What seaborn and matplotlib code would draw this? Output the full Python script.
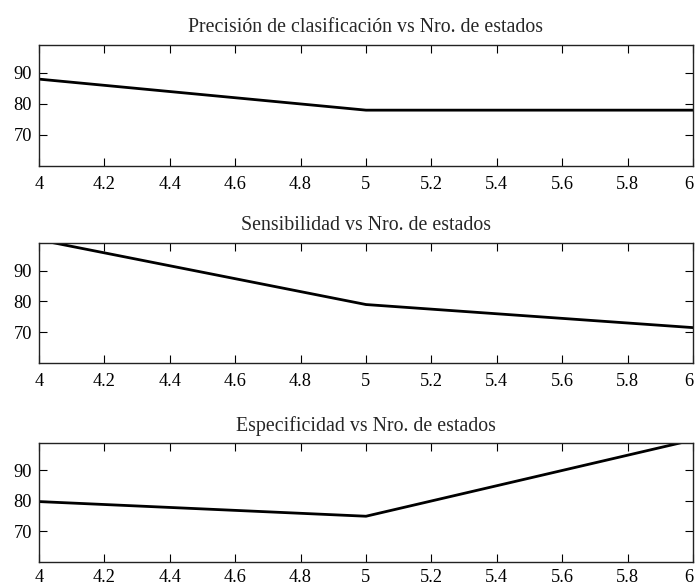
import pandas as pd
import matplotlib
matplotlib.use("Agg")
import matplotlib.pyplot as plt
import seaborn as sns

# Data
estados = [4, 5, 6]
precision = [88, 78, 78]
sensibilidad = [100, 79, 71.5]
especificidad = [79.8, 75, 100]

titulos = [
    "Precisión de clasificación vs Nro. de estados",
    "Sensibilidad vs Nro. de estados",
    "Especificidad vs Nro. de estados",
]
x_ticks = [4, 4.2, 4.4, 4.6, 4.8, 5, 5.2, 5.4, 5.6, 5.8, 6]
x_labels = ["4", "4.2", "4.4", "4.6", "4.8", "5", "5.2", "5.4", "5.6", "5.8", "6"]
y_ticks = [70, 80, 90]

sns.set_style("ticks")
plt.rcParams["font.family"] = ["Liberation Serif", "DejaVu Serif"]
plt.rcParams["font.size"] = 13

fig = plt.figure(figsize=(6.96, 5.87), dpi=100)
# axes boxes in pixels: (left, top, right, bottom)
boxes = [(39, 45, 693, 166), (39, 243, 693, 363), (39, 443, 693, 562)]
W, H = 696, 587

series = [precision, sensibilidad, especificidad]
for i, ((l, t, r, b), vals, titulo) in enumerate(zip(boxes, series, titulos)):
    ax = fig.add_axes([l / W, 1 - b / H, (r - l) / W, (b - t) / H])
    df = pd.DataFrame({"estados": estados, "valor": vals})
    sns.lineplot(data=df, x="estados", y="valor", ax=ax, color="black", linewidth=2.0)
    ax.set_xlim(4, 6)
    ax.set_ylim(60, 99)
    ax.set_xticks(x_ticks)
    ax.set_xticklabels(x_labels)
    ax.set_yticks(y_ticks)
    ax.set_xlabel("")
    ax.set_ylabel("")
    ax.set_title(titulo, fontsize=14.3, pad=9)
    ax.tick_params(direction="in", top=True, right=True, length=6, width=0.8,
                   labelsize=13.2, colors="black")
    # bottom panel labels sit right at the figure edge
    ax.tick_params(axis="x", pad=5 if i == 2 else 7)
    ax.tick_params(axis="y", pad=5)
    # last label sits inside the figure edge, like the original
    ax.get_xticklabels()[-1].set_horizontalalignment("right")
    for s in ax.spines.values():
        s.set_linewidth(1.0)
        s.set_color("#222222")

fig.savefig("out.png", dpi=100)
